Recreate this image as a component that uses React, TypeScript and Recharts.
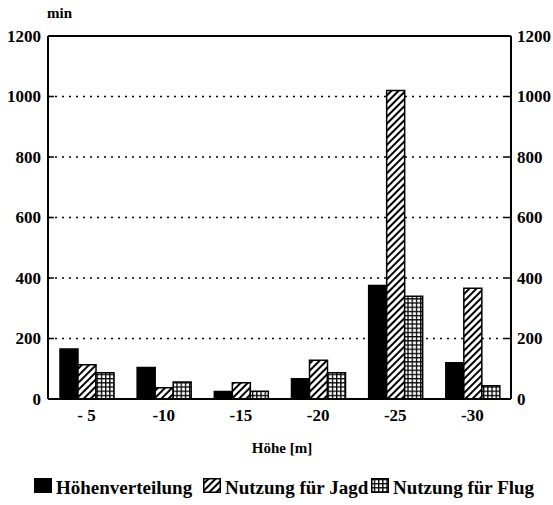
import React from "react";
import {
  ComposedChart,
  Bar,
  Line,
  XAxis,
  YAxis,
  CartesianGrid,
  ReferenceLine,
} from "recharts";

const categories = ["- 5", "-10", "-15", "-20", "-25", "-30"];
const hoehenverteilung = [165, 104, 25, 67, 375, 120];
const nutzungJagd = [113, 37, 54, 128, 1020, 366];
const nutzungFlug = [87, 56, 26, 87, 340, 44];
const yTicks = [0, 200, 400, 600, 800, 1000, 1200];

const data = categories.map((name, i) => ({
  name,
  hoehe: hoehenverteilung[i],
  jagd: nutzungJagd[i],
  flug: nutzungFlug[i],
}));

const font = "Liberation Serif, Times New Roman, serif";
const tickStyle = { fill: "#000", fontFamily: font, fontWeight: 700, fontSize: 17 };

function Patterns({ prefix }: { prefix: string }) {
  return (
    <defs>
      <pattern
        id={`${prefix}-hatch`}
        patternUnits="userSpaceOnUse"
        width="5"
        height="5"
        patternTransform="rotate(45)"
      >
        <rect width="5" height="5" fill="#fff" />
        <line x1="1" y1="0" x2="1" y2="5" stroke="#000" strokeWidth="2" />
      </pattern>
      <pattern id={`${prefix}-grid`} patternUnits="userSpaceOnUse" width="4.2" height="4.2">
        <rect width="4.2" height="4.2" fill="#fff" />
        <path d="M0 0.6H4.2M0.6 0V4.2" stroke="#000" strokeWidth="1.4" />
      </pattern>
    </defs>
  );
}

// y ticks: short mark pointing into the plot, label outside
function YTick(props: any) {
  const { x, y, payload, side } = props;
  const left = side === "left";
  return (
    <g>
      <line x1={x} x2={left ? x + 6 : x - 6} y1={y} y2={y} stroke="#000" strokeWidth={1.5} />
      <text
        x={left ? x - 7 : x + 6}
        y={y}
        dy="0.35em"
        textAnchor={left ? "end" : "start"}
        {...tickStyle}
      >
        {payload.value}
      </text>
    </g>
  );
}

const legendItems = [
  { label: "Höhenverteilung", fill: "#000", left: 34 },
  { label: "Nutzung für Jagd", fill: "url(#lg-hatch)", left: 203 },
  { label: "Nutzung für Flug", fill: "url(#lg-grid)", left: 371 },
];

export default function App() {
  return (
    <div style={{ position: "absolute", left: 0, top: 0, width: 553, height: 505, background: "#fff" }}>
      <ComposedChart
        width={553}
        height={505}
        data={data}
        margin={{ top: 36, right: 0, left: 0, bottom: 66 }}
        barGap={0}
        barSize={18}
      >
        <Patterns prefix="ch" />
        <CartesianGrid
          yAxisId="left"
          vertical={false}
          stroke="#000"
          strokeWidth={1.5}
          strokeDasharray="2 5"
        />
        <XAxis
          dataKey="name"
          height={40}
          tickLine={false}
          axisLine={{ stroke: "#000", strokeWidth: 2 }}
          tick={tickStyle}
          tickMargin={4}
          interval={0}
        />
        <YAxis
          yAxisId="left"
          orientation="left"
          width={48}
          domain={[0, 1200]}
          ticks={yTicks}
          interval={0}
          axisLine={{ stroke: "#000", strokeWidth: 2 }}
          tickLine={false}
          tickSize={0}
          tickMargin={0}
          tick={(p: any) => <YTick {...p} side="left" />}
        />
        <YAxis
          yAxisId="right"
          orientation="right"
          width={42}
          domain={[0, 1200]}
          ticks={yTicks}
          interval={0}
          axisLine={{ stroke: "#000", strokeWidth: 2 }}
          tickLine={false}
          tickSize={0}
          tickMargin={0}
          tick={(p: any) => <YTick {...p} side="right" />}
        />
        <ReferenceLine yAxisId="left" y={1200} stroke="#000" strokeWidth={2} />
        <Bar yAxisId="left" dataKey="hoehe" fill="#000" stroke="#000" strokeWidth={1.5} isAnimationActive={false} />
        <Bar yAxisId="left" dataKey="jagd" fill="url(#ch-hatch)" stroke="#000" strokeWidth={1.5} isAnimationActive={false} />
        <Bar yAxisId="left" dataKey="flug" fill="url(#ch-grid)" stroke="#000" strokeWidth={1.5} isAnimationActive={false} />
        {/* invisible series so the right axis gets its scale */}
        <Line
          yAxisId="right"
          dataKey="hoehe"
          stroke="none"
          dot={false}
          activeDot={false}
          legendType="none"
          isAnimationActive={false}
        />
      </ComposedChart>
      <svg
        width={553}
        height={505}
        style={{ position: "absolute", left: 0, top: 0, pointerEvents: "none" }}
        fontFamily={font}
        fontWeight={700}
      >
        <Patterns prefix="lg" />
        <text x={47} y={18} fontSize={15}>min</text>
        <text x={282} y={453} fontSize={15} textAnchor="middle">Höhe [m]</text>
        {legendItems.map((item) => (
          <g key={item.label}>
            <rect
              x={item.left + 0.75}
              y={478.75}
              width={16.5}
              height={13.5}
              fill={item.fill}
              stroke="#000"
              strokeWidth={1.5}
            />
            <text x={item.left + 22} y={494} fontSize={19}>{item.label}</text>
          </g>
        ))}
      </svg>
    </div>
  );
}
